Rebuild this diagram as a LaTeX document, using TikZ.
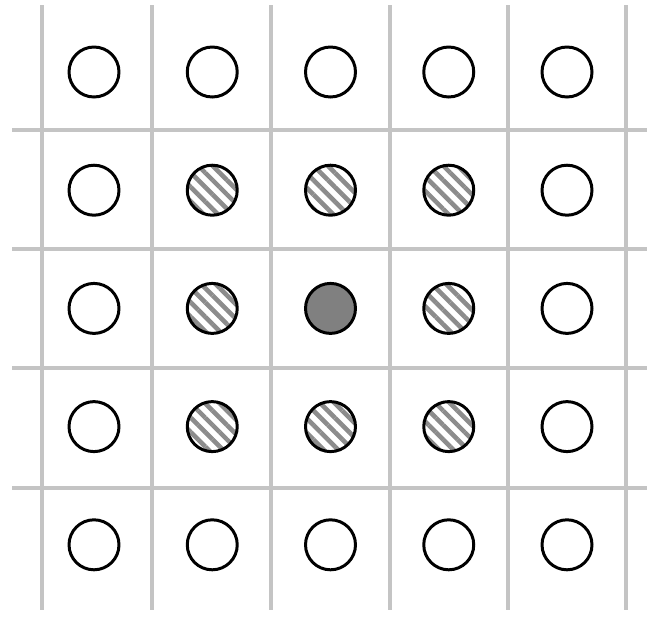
\documentclass[tikz,border=0pt]{standalone}
\usepackage{xcolor}
\usetikzlibrary{patterns.meta}
\definecolor{gridgray}{HTML}{C4C4C4}
\definecolor{hatchgray}{HTML}{8C8C8C}
\definecolor{coregray}{HTML}{808080}

\tikzset{
  site/.style={circle,draw=black,line width=1.7pt,minimum size=1cm,inner sep=0pt},
  plain/.style={fill=white},
  hatched/.style={preaction={fill=white},
    pattern={Lines[angle=-45,distance=5.8pt,line width=2.6pt]},pattern color=hatchgray},
  core/.style={fill=coregray},
  gridline/.style={gridgray,line width=1.9pt}
}

\begin{document}
\begin{tikzpicture}[x=0.02cm,y=-0.02cm]
    \useasboundingbox (0,0) rectangle (649,616);
    % grid
    \foreach \x in {42,152,271,390,508,626}
      \draw[gridline] (\x,5) -- (\x,610);
    \foreach \y in {130,249,368,488}
      \draw[gridline] (12,\y) -- (647,\y);
    % sites
    \foreach \r in {1,...,5}
      \foreach \c in {1,...,5} {
        \pgfmathtruncatemacro\ring{max(abs(\r-3),abs(\c-3))}
        \ifcase\ring \tikzset{look/.style={core}}\or \tikzset{look/.style={hatched}}\else \tikzset{look/.style={plain}}\fi
        \node[site,look] (s\r\c) at ({94+118.25*(\c-1)},{72+118.2*(\r-1)}) {};
      }
  \end{tikzpicture}
\end{document}
